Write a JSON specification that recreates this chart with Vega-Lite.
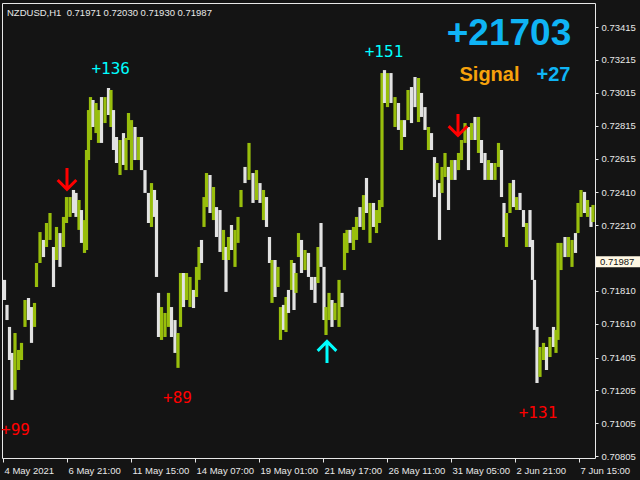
{
"$schema": "https://vega.github.io/schema/vega-lite/v6.json",
"width": 593, "height": 455,
"autosize": "none",
"padding": {"left": 2, "top": 3, "right": 45, "bottom": 22},
"background": "#141414",
"config": {
"view": {"stroke": "#e8e8e8", "strokeWidth": 1, "fill": "#141414"},
"axis": {"title": null, "domain": false, "grid": false, "tickColor": "#e8e8e8", "tickWidth": 1, "labelColor": "#e8e8e8", "labelFont": "Liberation Sans", "labelFontSize": 9.5, "labelFlush": false, "labelOverlap": false, "labelBound": false, "labelSeparation": 0},
"axisX": {"tickSize": 4, "labelAlign": "left", "labelBaseline": "top", "labelPadding": 3, "labelOffset": 1},
"axisY": {"tickSize": 3, "labelAlign": "left", "labelBaseline": "middle", "labelPadding": 3}
},
"datasets": {
"bars": [
{"t":4.5,"h":0.71877,"l":0.71755,"c":"d"},
{"t":7,"h":0.71725,"l":0.71633,"c":"d"},
{"t":9.5,"h":0.71591,"l":0.7139,"c":"d"},
{"t":12,"h":0.71433,"l":0.71147,"c":"d"},
{"t":15,"h":0.71554,"l":0.71208,"c":"u"},
{"t":18.5,"h":0.71451,"l":0.71329,"c":"u"},
{"t":21.5,"h":0.71494,"l":0.7139,"c":"u"},
{"t":25,"h":0.71755,"l":0.71591,"c":"u"},
{"t":28.5,"h":0.71767,"l":0.71633,"c":"d"},
{"t":31.5,"h":0.71712,"l":0.71494,"c":"d"},
{"t":34.5,"h":0.71737,"l":0.71591,"c":"u"},
{"t":36.5,"h":0.7198,"l":0.71834,"c":"u"},
{"t":40,"h":0.72168,"l":0.7198,"c":"u"},
{"t":43.5,"h":0.7212,"l":0.72016,"c":"d"},
{"t":46.5,"h":0.72223,"l":0.72077,"c":"u"},
{"t":50,"h":0.72284,"l":0.7212,"c":"u"},
{"t":53.5,"h":0.72077,"l":0.71834,"c":"d"},
{"t":56.5,"h":0.72199,"l":0.71998,"c":"u"},
{"t":60,"h":0.72162,"l":0.71956,"c":"d"},
{"t":63.5,"h":0.7226,"l":0.72077,"c":"u"},
{"t":66.5,"h":0.72381,"l":0.72223,"c":"u"},
{"t":70,"h":0.72381,"l":0.7226,"c":"u"},
{"t":73.5,"h":0.72424,"l":0.72284,"c":"d"},
{"t":76,"h":0.72406,"l":0.7226,"c":"d"},
{"t":79,"h":0.72363,"l":0.72181,"c":"u"},
{"t":81.5,"h":0.72302,"l":0.72102,"c":"d"},
{"t":84.5,"h":0.72241,"l":0.72041,"c":"u"},
{"t":86.5,"h":0.72667,"l":0.72059,"c":"u"},
{"t":88.5,"h":0.7291,"l":0.72606,"c":"u"},
{"t":90.5,"h":0.72989,"l":0.72728,"c":"u"},
{"t":93,"h":0.72971,"l":0.72807,"c":"d"},
{"t":96,"h":0.72953,"l":0.7277,"c":"u"},
{"t":98.5,"h":0.7291,"l":0.7271,"c":"u"},
{"t":101.5,"h":0.72989,"l":0.7271,"c":"d"},
{"t":105,"h":0.72989,"l":0.72831,"c":"u"},
{"t":108.5,"h":0.73044,"l":0.7288,"c":"d"},
{"t":111,"h":0.73032,"l":0.72807,"c":"u"},
{"t":113.5,"h":0.7291,"l":0.72667,"c":"d"},
{"t":116.5,"h":0.72746,"l":0.72588,"c":"d"},
{"t":120,"h":0.72728,"l":0.72515,"c":"u"},
{"t":123.5,"h":0.7277,"l":0.72576,"c":"d"},
{"t":126,"h":0.7274,"l":0.72545,"c":"u"},
{"t":128.5,"h":0.72892,"l":0.72728,"c":"u"},
{"t":131.5,"h":0.72849,"l":0.72545,"c":"u"},
{"t":135,"h":0.72807,"l":0.72606,"c":"d"},
{"t":138.5,"h":0.72746,"l":0.72606,"c":"u"},
{"t":141.5,"h":0.72746,"l":0.72545,"c":"d"},
{"t":145,"h":0.72545,"l":0.72406,"c":"d"},
{"t":148.5,"h":0.72406,"l":0.72223,"c":"d"},
{"t":151.5,"h":0.72466,"l":0.72199,"c":"u"},
{"t":154.5,"h":0.72424,"l":0.7226,"c":"d"},
{"t":156.5,"h":0.72363,"l":0.71895,"c":"d"},
{"t":158.5,"h":0.71798,"l":0.7153,"c":"d"},
{"t":161.5,"h":0.71712,"l":0.71512,"c":"u"},
{"t":165,"h":0.71676,"l":0.7153,"c":"u"},
{"t":168.5,"h":0.71798,"l":0.71591,"c":"u"},
{"t":171.5,"h":0.71712,"l":0.7153,"c":"d"},
{"t":175,"h":0.71633,"l":0.71433,"c":"d"},
{"t":178,"h":0.71554,"l":0.71342,"c":"u"},
{"t":180.5,"h":0.71919,"l":0.71591,"c":"u"},
{"t":183.5,"h":0.71919,"l":0.71712,"c":"d"},
{"t":186.5,"h":0.71919,"l":0.71755,"c":"u"},
{"t":190,"h":0.71895,"l":0.71712,"c":"u"},
{"t":193.5,"h":0.71816,"l":0.71706,"c":"d"},
{"t":196.5,"h":0.71956,"l":0.71773,"c":"u"},
{"t":199,"h":0.72077,"l":0.71877,"c":"u"},
{"t":201.5,"h":0.7212,"l":0.7198,"c":"d"},
{"t":204,"h":0.72381,"l":0.72199,"c":"u"},
{"t":206.5,"h":0.72527,"l":0.7232,"c":"u"},
{"t":210,"h":0.72515,"l":0.72284,"c":"d"},
{"t":213.5,"h":0.72442,"l":0.72241,"c":"u"},
{"t":216.5,"h":0.7232,"l":0.72138,"c":"d"},
{"t":220,"h":0.72302,"l":0.72047,"c":"d"},
{"t":223.5,"h":0.72181,"l":0.71998,"c":"u"},
{"t":226,"h":0.72077,"l":0.71804,"c":"d"},
{"t":228.5,"h":0.72138,"l":0.71998,"c":"u"},
{"t":231.5,"h":0.72211,"l":0.72059,"c":"d"},
{"t":235,"h":0.72181,"l":0.71956,"c":"u"},
{"t":238,"h":0.7226,"l":0.72102,"c":"u"},
{"t":241,"h":0.72424,"l":0.7232,"c":"u"},
{"t":245,"h":0.72564,"l":0.72466,"c":"d"},
{"t":249,"h":0.7271,"l":0.72485,"c":"u"},
{"t":253,"h":0.72527,"l":0.72345,"c":"d"},
{"t":256.5,"h":0.72545,"l":0.72363,"c":"u"},
{"t":260,"h":0.72466,"l":0.72345,"c":"d"},
{"t":263.5,"h":0.72424,"l":0.72241,"c":"u"},
{"t":266.5,"h":0.72381,"l":0.72199,"c":"d"},
{"t":269.5,"h":0.72138,"l":0.7198,"c":"d"},
{"t":272,"h":0.71998,"l":0.71737,"c":"u"},
{"t":275,"h":0.71998,"l":0.71773,"c":"d"},
{"t":278,"h":0.71956,"l":0.71834,"c":"u"},
{"t":280.5,"h":0.71712,"l":0.71512,"c":"u"},
{"t":283.5,"h":0.71725,"l":0.71573,"c":"d"},
{"t":286,"h":0.71773,"l":0.7156,"c":"u"},
{"t":288.5,"h":0.71816,"l":0.71676,"c":"d"},
{"t":291.5,"h":0.71998,"l":0.71816,"c":"u"},
{"t":294,"h":0.7198,"l":0.71694,"c":"d"},
{"t":296,"h":0.71919,"l":0.71798,"c":"u"},
{"t":298.5,"h":0.72162,"l":0.72016,"c":"u"},
{"t":301.5,"h":0.7212,"l":0.71919,"c":"d"},
{"t":305,"h":0.72059,"l":0.71937,"c":"u"},
{"t":308.5,"h":0.72041,"l":0.71895,"c":"d"},
{"t":311.5,"h":0.71895,"l":0.71816,"c":"d"},
{"t":315,"h":0.71895,"l":0.71737,"c":"d"},
{"t":318,"h":0.72077,"l":0.71858,"c":"u"},
{"t":321,"h":0.72223,"l":0.71956,"c":"d"},
{"t":324,"h":0.71956,"l":0.71633,"c":"d"},
{"t":326,"h":0.71712,"l":0.71542,"c":"u"},
{"t":329,"h":0.71798,"l":0.71633,"c":"u"},
{"t":332,"h":0.71755,"l":0.71591,"c":"d"},
{"t":335,"h":0.71737,"l":0.71633,"c":"u"},
{"t":339,"h":0.71877,"l":0.71591,"c":"u"},
{"t":342,"h":0.71798,"l":0.71712,"c":"d"},
{"t":344.5,"h":0.72162,"l":0.71937,"c":"u"},
{"t":347,"h":0.72181,"l":0.72041,"c":"u"},
{"t":350,"h":0.72181,"l":0.72102,"c":"d"},
{"t":353.5,"h":0.72199,"l":0.72059,"c":"u"},
{"t":356.5,"h":0.7226,"l":0.7212,"c":"u"},
{"t":360,"h":0.7232,"l":0.72199,"c":"d"},
{"t":363.5,"h":0.72393,"l":0.72181,"c":"u"},
{"t":366.5,"h":0.72497,"l":0.72284,"c":"d"},
{"t":370,"h":0.72345,"l":0.72102,"c":"u"},
{"t":373.5,"h":0.72345,"l":0.72199,"c":"d"},
{"t":376.5,"h":0.72302,"l":0.72162,"c":"u"},
{"t":379.5,"h":0.72363,"l":0.72223,"c":"u"},
{"t":382,"h":0.73135,"l":0.7232,"c":"u"},
{"t":384.5,"h":0.73153,"l":0.72953,"c":"d"},
{"t":387.5,"h":0.73135,"l":0.72928,"c":"u"},
{"t":391,"h":0.73135,"l":0.72953,"c":"d"},
{"t":395,"h":0.72989,"l":0.72807,"c":"u"},
{"t":398.5,"h":0.72953,"l":0.72789,"c":"d"},
{"t":401.5,"h":0.72849,"l":0.72667,"c":"u"},
{"t":404.5,"h":0.72849,"l":0.72746,"c":"d"},
{"t":408,"h":0.73032,"l":0.72849,"c":"u"},
{"t":411.5,"h":0.7305,"l":0.72831,"c":"d"},
{"t":415,"h":0.73111,"l":0.72928,"c":"d"},
{"t":418.5,"h":0.73105,"l":0.72837,"c":"u"},
{"t":421.5,"h":0.73014,"l":0.72868,"c":"d"},
{"t":425,"h":0.72928,"l":0.72789,"c":"d"},
{"t":428.5,"h":0.72807,"l":0.72667,"c":"u"},
{"t":431.5,"h":0.7277,"l":0.72667,"c":"d"},
{"t":434.5,"h":0.72624,"l":0.72381,"c":"d"},
{"t":437,"h":0.72588,"l":0.72485,"c":"u"},
{"t":439.5,"h":0.72466,"l":0.7212,"c":"d"},
{"t":442,"h":0.72564,"l":0.72406,"c":"u"},
{"t":445,"h":0.72649,"l":0.72503,"c":"u"},
{"t":448.5,"h":0.72564,"l":0.72302,"c":"d"},
{"t":451.5,"h":0.72606,"l":0.72485,"c":"u"},
{"t":455,"h":0.72606,"l":0.72485,"c":"d"},
{"t":458.5,"h":0.72649,"l":0.72545,"c":"u"},
{"t":461.5,"h":0.72728,"l":0.72606,"c":"u"},
{"t":465,"h":0.72831,"l":0.7271,"c":"u"},
{"t":468.5,"h":0.72807,"l":0.72545,"c":"d"},
{"t":471.5,"h":0.72831,"l":0.72728,"c":"u"},
{"t":475,"h":0.72868,"l":0.72728,"c":"d"},
{"t":478.5,"h":0.72868,"l":0.72649,"c":"u"},
{"t":481.5,"h":0.72728,"l":0.72588,"c":"d"},
{"t":485,"h":0.72649,"l":0.72485,"c":"d"},
{"t":488.5,"h":0.72606,"l":0.72485,"c":"u"},
{"t":491.5,"h":0.72588,"l":0.72485,"c":"d"},
{"t":495,"h":0.72588,"l":0.72485,"c":"u"},
{"t":498.5,"h":0.7271,"l":0.72564,"c":"u"},
{"t":501.5,"h":0.72667,"l":0.72381,"c":"d"},
{"t":504,"h":0.72345,"l":0.72138,"c":"d"},
{"t":506.5,"h":0.72284,"l":0.72077,"c":"u"},
{"t":510,"h":0.72466,"l":0.72284,"c":"u"},
{"t":513.5,"h":0.72485,"l":0.7232,"c":"d"},
{"t":516.5,"h":0.72381,"l":0.72302,"c":"u"},
{"t":520,"h":0.72406,"l":0.72302,"c":"d"},
{"t":523.5,"h":0.72302,"l":0.72199,"c":"d"},
{"t":526.5,"h":0.72223,"l":0.72077,"c":"u"},
{"t":530,"h":0.72302,"l":0.72077,"c":"d"},
{"t":532.5,"h":0.7212,"l":0.71877,"c":"d"},
{"t":534.5,"h":0.71877,"l":0.71573,"c":"d"},
{"t":537,"h":0.71591,"l":0.7125,"c":"d"},
{"t":540,"h":0.71469,"l":0.71287,"c":"u"},
{"t":543.5,"h":0.71494,"l":0.7139,"c":"u"},
{"t":546.5,"h":0.71469,"l":0.71329,"c":"d"},
{"t":550,"h":0.7153,"l":0.71408,"c":"u"},
{"t":553.5,"h":0.71591,"l":0.71469,"c":"d"},
{"t":556,"h":0.71573,"l":0.71433,"c":"u"},
{"t":558,"h":0.72102,"l":0.71512,"c":"u"},
{"t":561,"h":0.72102,"l":0.71937,"c":"u"},
{"t":565,"h":0.72138,"l":0.72016,"c":"d"},
{"t":568.5,"h":0.72138,"l":0.72016,"c":"u"},
{"t":572,"h":0.7212,"l":0.71956,"c":"u"},
{"t":575.5,"h":0.72162,"l":0.72041,"c":"d"},
{"t":578,"h":0.72345,"l":0.72162,"c":"u"},
{"t":581,"h":0.72424,"l":0.7226,"c":"u"},
{"t":584.5,"h":0.72412,"l":0.72284,"c":"d"},
{"t":587.5,"h":0.72363,"l":0.7226,"c":"u"},
{"t":591,"h":0.7232,"l":0.72199,"c":"d"},
{"t":593,"h":0.72333,"l":0.72229,"c":"u"}
],
"notes": [
{"t":110.7,"p":0.73129,"txt":"+136","kind":"peak"},
{"t":384,"p":0.73234,"txt":"+151","kind":"peak"},
{"t":177.5,"p":0.71129,"txt":"+89","kind":"trough"},
{"t":15.5,"p":0.70931,"txt":"+99","kind":"trough"},
{"t":538,"p":0.71038,"txt":"+131","kind":"trough"}
],
"signals": [
{"t":67,"p":0.72491,"side":"sell"},
{"t":458,"p":0.72819,"side":"sell"},
{"t":327,"p":0.71439,"side":"buy"}
],
"panel": [
{"t":509,"p":0.73305,"txt":"+21703","role":"total"},
{"t":489.5,"p":0.73087,"txt":"Signal","role":"label"},
{"t":553.5,"p":0.73087,"txt":"+27","role":"signal"}
],
"quote": [
{"t":7,"p":0.7348,"txt":"NZDUSD,H1\u00a0 0.71971 0.72030 0.71930 0.71987"}
],
"last": [
{"t":595,"p":0.71987,"txt":"0.71987"}
]
},
"layer": [
{
"data": {"name": "bars"},
"mark": {"type": "rule", "strokeWidth": 3.2, "strokeCap": "butt"},
"encoding": {
"x": {"field": "t", "type": "quantitative", "scale": {"domain": [2, 595], "nice": false, "zero": false},
"axis": {"values": [3,67,131,195,259,323,387,451,515,579], "tickCount": 30,
"labelExpr": "['4 May 2021','6 May 21:00','11 May 15:00','14 May 07:00','19 May 01:00','21 May 17:00','26 May 11:00','31 May 05:00','2 Jun 21:00','7 Jun 15:00'][round((datum.value-3)/64)]",
"title": null, "labelOverlap": false}},
"y": {"field": "h", "type": "quantitative", "scale": {"domain": [0.70794, 0.73561], "nice": false, "zero": false},
"axis": {"orient": "right", "values": [0.73415,0.73215,0.73015,0.72815,0.72615,0.7241,0.7221,0.7201,0.7181,0.7161,0.71405,0.71205,0.71005,0.70805], "tickCount": 30,
"labelExpr": "abs(datum.value - 0.7201) < 0.00001 ? '' : format(datum.value, '.5f')",
"title": null, "labelOverlap": false}},
"y2": {"field": "l"},
"color": {"field": "c", "type": "nominal", "scale": {"domain": ["u", "d"], "range": ["#98BE0C", "#E2E2E2"]}, "legend": null}
}
},
{
"data": {"name": "signals"},
"transform": [{"filter": "datum.side == 'sell'"}],
"mark": {"type": "point", "shape": "M0,-1L0,0.9M-0.85,0.1L0,0.95L0.85,0.1", "filled": false, "color": "#FF0000", "strokeWidth": 3, "size": 484, "opacity": 1},
"encoding": {
"x": {"field": "t", "type": "quantitative", "scale": {"domain": [2, 595], "nice": false, "zero": false}},
"y": {"field": "p", "type": "quantitative", "scale": {"domain": [0.70794, 0.73561], "nice": false, "zero": false}}
}
},
{
"data": {"name": "signals"},
"transform": [{"filter": "datum.side == 'buy'"}],
"mark": {"type": "point", "shape": "M0,1L0,-0.9M-0.85,-0.1L0,-0.95L0.85,-0.1", "filled": false, "color": "#00FFFF", "strokeWidth": 3, "size": 484, "opacity": 1},
"encoding": {
"x": {"field": "t", "type": "quantitative", "scale": {"domain": [2, 595], "nice": false, "zero": false}},
"y": {"field": "p", "type": "quantitative", "scale": {"domain": [0.70794, 0.73561], "nice": false, "zero": false}}
}
},
{
"data": {"name": "notes"},
"transform": [{"filter": "datum.kind == 'peak'"}],
"mark": {"type": "text", "font": "DejaVu Sans Mono", "fontSize": 16, "color": "#00FFFF", "align": "center", "baseline": "alphabetic"},
"encoding": {
"x": {"field": "t", "type": "quantitative", "scale": {"domain": [2, 595], "nice": false, "zero": false}},
"y": {"field": "p", "type": "quantitative", "scale": {"domain": [0.70794, 0.73561], "nice": false, "zero": false}},
"text": {"field": "txt"}
}
},
{
"data": {"name": "notes"},
"transform": [{"filter": "datum.kind == 'trough'"}],
"mark": {"type": "text", "font": "DejaVu Sans Mono", "fontSize": 16, "color": "#FF0000", "align": "center", "baseline": "alphabetic"},
"encoding": {
"x": {"field": "t", "type": "quantitative", "scale": {"domain": [2, 595], "nice": false, "zero": false}},
"y": {"field": "p", "type": "quantitative", "scale": {"domain": [0.70794, 0.73561], "nice": false, "zero": false}},
"text": {"field": "txt"}
}
},
{
"data": {"name": "panel"},
"transform": [{"filter": "datum.role == 'total'"}],
"mark": {"type": "text", "font": "Liberation Sans", "fontWeight": "bold", "fontSize": 37, "color": "#0FB4F5", "align": "center", "baseline": "alphabetic"},
"encoding": {
"x": {"field": "t", "type": "quantitative", "scale": {"domain": [2, 595], "nice": false, "zero": false}},
"y": {"field": "p", "type": "quantitative", "scale": {"domain": [0.70794, 0.73561], "nice": false, "zero": false}},
"text": {"field": "txt"}
}
},
{
"data": {"name": "panel"},
"transform": [{"filter": "datum.role == 'label'"}],
"mark": {"type": "text", "font": "Liberation Sans", "fontWeight": "bold", "fontSize": 20, "color": "#F7A20C", "align": "center", "baseline": "alphabetic"},
"encoding": {
"x": {"field": "t", "type": "quantitative", "scale": {"domain": [2, 595], "nice": false, "zero": false}},
"y": {"field": "p", "type": "quantitative", "scale": {"domain": [0.70794, 0.73561], "nice": false, "zero": false}},
"text": {"field": "txt"}
}
},
{
"data": {"name": "panel"},
"transform": [{"filter": "datum.role == 'signal'"}],
"mark": {"type": "text", "font": "Liberation Sans", "fontWeight": "bold", "fontSize": 20, "color": "#0FB4F5", "align": "center", "baseline": "alphabetic"},
"encoding": {
"x": {"field": "t", "type": "quantitative", "scale": {"domain": [2, 595], "nice": false, "zero": false}},
"y": {"field": "p", "type": "quantitative", "scale": {"domain": [0.70794, 0.73561], "nice": false, "zero": false}},
"text": {"field": "txt"}
}
},
{
"data": {"name": "quote"},
"mark": {"type": "text", "font": "Liberation Sans", "fontSize": 9.5, "color": "#e8e8e8", "align": "left", "baseline": "alphabetic"},
"encoding": {
"x": {"field": "t", "type": "quantitative", "scale": {"domain": [2, 595], "nice": false, "zero": false}},
"y": {"field": "p", "type": "quantitative", "scale": {"domain": [0.70794, 0.73561], "nice": false, "zero": false}},
"text": {"field": "txt"}
}
},
{
"data": {"name": "last"},
"mark": {"type": "point", "shape": "M-1,-0.25L1,-0.25L1,0.25L-1,0.25Z", "filled": true, "color": "#FFF8E4", "size": 1936, "opacity": 1, "xOffset": 23},
"encoding": {
"x": {"field": "t", "type": "quantitative", "scale": {"domain": [2, 595], "nice": false, "zero": false}},
"y": {"field": "p", "type": "quantitative", "scale": {"domain": [0.70794, 0.73561], "nice": false, "zero": false}}
}
},
{
"data": {"name": "last"},
"mark": {"type": "text", "font": "Liberation Sans", "fontSize": 9.5, "color": "#101010", "align": "left", "baseline": "middle", "dx": 5},
"encoding": {
"x": {"field": "t", "type": "quantitative", "scale": {"domain": [2, 595], "nice": false, "zero": false}},
"y": {"field": "p", "type": "quantitative", "scale": {"domain": [0.70794, 0.73561], "nice": false, "zero": false}},
"text": {"field": "txt"}
}
}
]
}
